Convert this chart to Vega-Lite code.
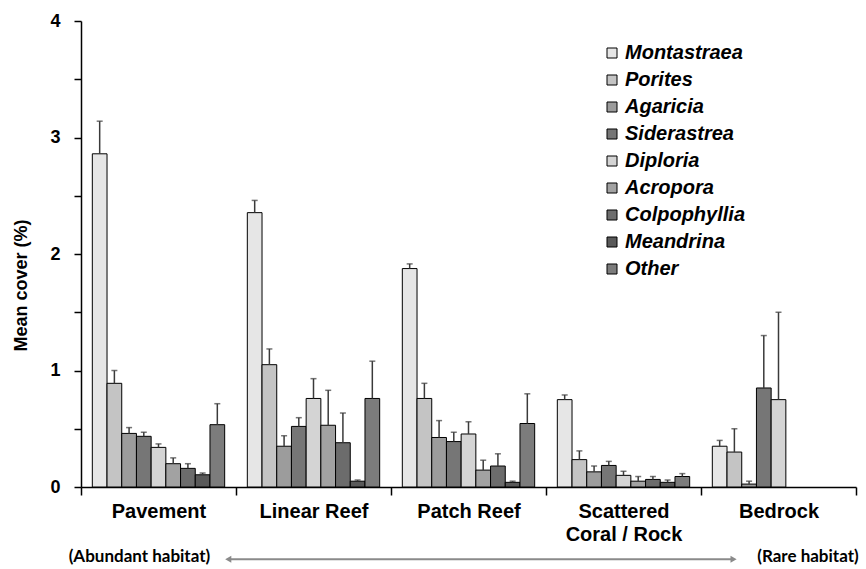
{
  "$schema": "https://vega.github.io/schema/vega-lite/v6.json",
  "width": 775,
  "height": 466,
  "autosize": {"type": "none"},
  "padding": {"left": 81, "top": 21, "right": 10, "bottom": 82},
  "background": "white",
  "config": {"view": {"stroke": null}, "font": "Liberation Sans"},
  "data": {
    "values": [
      {"habitat": "Pavement", "genus": "Montastraea", "mean": 2.86, "upper": 3.14},
      {"habitat": "Pavement", "genus": "Porites", "mean": 0.89, "upper": 1.0},
      {"habitat": "Pavement", "genus": "Agaricia", "mean": 0.46, "upper": 0.51},
      {"habitat": "Pavement", "genus": "Siderastrea", "mean": 0.435, "upper": 0.47},
      {"habitat": "Pavement", "genus": "Diploria", "mean": 0.34, "upper": 0.37},
      {"habitat": "Pavement", "genus": "Acropora", "mean": 0.2, "upper": 0.25},
      {"habitat": "Pavement", "genus": "Colpophyllia", "mean": 0.16, "upper": 0.2},
      {"habitat": "Pavement", "genus": "Meandrina", "mean": 0.105, "upper": 0.12},
      {"habitat": "Pavement", "genus": "Other", "mean": 0.535, "upper": 0.715},
      {"habitat": "Linear Reef", "genus": "Montastraea", "mean": 2.355, "upper": 2.46},
      {"habitat": "Linear Reef", "genus": "Porites", "mean": 1.05, "upper": 1.185},
      {"habitat": "Linear Reef", "genus": "Agaricia", "mean": 0.35, "upper": 0.44},
      {"habitat": "Linear Reef", "genus": "Siderastrea", "mean": 0.52, "upper": 0.595},
      {"habitat": "Linear Reef", "genus": "Diploria", "mean": 0.76, "upper": 0.93},
      {"habitat": "Linear Reef", "genus": "Acropora", "mean": 0.53, "upper": 0.83},
      {"habitat": "Linear Reef", "genus": "Colpophyllia", "mean": 0.38, "upper": 0.635},
      {"habitat": "Linear Reef", "genus": "Meandrina", "mean": 0.05, "upper": 0.06},
      {"habitat": "Linear Reef", "genus": "Other", "mean": 0.76, "upper": 1.08},
      {"habitat": "Patch Reef", "genus": "Montastraea", "mean": 1.875, "upper": 1.915},
      {"habitat": "Patch Reef", "genus": "Porites", "mean": 0.76, "upper": 0.89},
      {"habitat": "Patch Reef", "genus": "Agaricia", "mean": 0.425, "upper": 0.57},
      {"habitat": "Patch Reef", "genus": "Siderastrea", "mean": 0.39, "upper": 0.47},
      {"habitat": "Patch Reef", "genus": "Diploria", "mean": 0.455, "upper": 0.56},
      {"habitat": "Patch Reef", "genus": "Acropora", "mean": 0.145, "upper": 0.23},
      {"habitat": "Patch Reef", "genus": "Colpophyllia", "mean": 0.18, "upper": 0.285},
      {"habitat": "Patch Reef", "genus": "Meandrina", "mean": 0.04, "upper": 0.05},
      {"habitat": "Patch Reef", "genus": "Other", "mean": 0.545, "upper": 0.8},
      {"habitat": "Scattered Coral / Rock", "genus": "Montastraea", "mean": 0.75, "upper": 0.79},
      {"habitat": "Scattered Coral / Rock", "genus": "Porites", "mean": 0.235, "upper": 0.31},
      {"habitat": "Scattered Coral / Rock", "genus": "Agaricia", "mean": 0.13, "upper": 0.18},
      {"habitat": "Scattered Coral / Rock", "genus": "Siderastrea", "mean": 0.185, "upper": 0.22},
      {"habitat": "Scattered Coral / Rock", "genus": "Diploria", "mean": 0.1, "upper": 0.135},
      {"habitat": "Scattered Coral / Rock", "genus": "Acropora", "mean": 0.05, "upper": 0.09},
      {"habitat": "Scattered Coral / Rock", "genus": "Colpophyllia", "mean": 0.065, "upper": 0.09},
      {"habitat": "Scattered Coral / Rock", "genus": "Meandrina", "mean": 0.04, "upper": 0.06},
      {"habitat": "Scattered Coral / Rock", "genus": "Other", "mean": 0.09, "upper": 0.115},
      {"habitat": "Bedrock", "genus": "Montastraea", "mean": 0.35, "upper": 0.4},
      {"habitat": "Bedrock", "genus": "Porites", "mean": 0.3, "upper": 0.5},
      {"habitat": "Bedrock", "genus": "Agaricia", "mean": 0.025, "upper": 0.05},
      {"habitat": "Bedrock", "genus": "Siderastrea", "mean": 0.85, "upper": 1.3},
      {"habitat": "Bedrock", "genus": "Diploria", "mean": 0.75, "upper": 1.5}
    ]
  },
  "layer": [
    {
      "mark": {"type": "bar", "stroke": "black", "strokeWidth": 1},
      "encoding": {
        "x": {
          "field": "habitat", "type": "nominal",
          "scale": {"domain": ["Pavement", "Linear Reef", "Patch Reef", "Scattered Coral / Rock", "Bedrock"], "paddingInner": 0, "paddingOuter": 0},
          "axis": {
            "title": null, "labelAngle": 0, "tickBand": "extent", "tickSize": 8, "tickWidth": 1.5, "tickColor": "black",
            "domainColor": "black", "domainWidth": 1.5, "labelFont": "Liberation Sans", "labelFontSize": 20, "labelFontWeight": "bold",
            "labelColor": "black", "labelPadding": 6, "labelLineHeight": 23,
            "labelExpr": "datum.value == 'Scattered Coral / Rock' ? ['Scattered', 'Coral / Rock'] : datum.value"
          }
        },
        "xOffset": {
          "field": "genus", "type": "nominal",
          "scale": {"domain": ["Montastraea", "Porites", "Agaricia", "Siderastrea", "Diploria", "Acropora", "Colpophyllia", "Meandrina", "Other"], "paddingInner": 0, "paddingOuter": 0.77}
        },
        "y": {
          "field": "mean", "type": "quantitative",
          "scale": {"domain": [0, 4], "nice": false},
          "axis": {
            "title": "Mean cover (%)", "values": [0, 0.5, 1, 1.5, 2, 2.5, 3, 3.5, 4],
            "labelExpr": "datum.value % 1 === 0 ? '' + datum.value : ''",
            "grid": false, "domainColor": "black", "domainWidth": 1.5, "tickColor": "black", "tickWidth": 1.5, "tickSize": 7,
            "labelFont": "Liberation Sans", "labelFontSize": 18, "labelFontWeight": "bold", "labelColor": "black", "labelPadding": 14,
            "titleFont": "Liberation Sans", "titleFontSize": 18, "titleFontWeight": "bold", "titleColor": "black", "titlePadding": 19,
            "titleY": 264
          }
        },
        "color": {
          "field": "genus", "type": "nominal",
          "scale": {
            "domain": ["Montastraea", "Porites", "Agaricia", "Siderastrea", "Diploria", "Acropora", "Colpophyllia", "Meandrina", "Other"],
            "range": ["#e6e6e6", "#c4c4c4", "#9c9c9c", "#767676", "#d4d4d4", "#a2a2a2", "#6c6c6c", "#595959", "#7c7c7c"]
          },
          "legend": {
            "title": null, "orient": "none", "legendX": 521, "legendY": 22,
            "symbolType": "square", "symbolSize": 100, "symbolStrokeColor": "black", "symbolStrokeWidth": 1, "symbolOpacity": 1,
            "labelFont": "Liberation Sans", "labelFontSize": 20, "labelFontWeight": "bold", "labelFontStyle": "italic", "labelColor": "black",
            "labelOffset": 3, "rowPadding": 7
          }
        }
      }
    },
    {
      "mark": {"type": "rule", "color": "#3a3a3a", "strokeWidth": 1.5},
      "encoding": {
        "x": {"field": "habitat", "type": "nominal"},
        "xOffset": {"field": "genus", "type": "nominal"},
        "y": {"field": "mean", "type": "quantitative"},
        "y2": {"field": "upper"}
      }
    },
    {
      "mark": {"type": "tick", "orient": "horizontal", "color": "#3a3a3a", "size": 6, "thickness": 1.5},
      "encoding": {
        "x": {"field": "habitat", "type": "nominal"},
        "xOffset": {"field": "genus", "type": "nominal"},
        "y": {"field": "upper", "type": "quantitative"}
      }
    },
    {
      "data": {"values": [{}]},
      "mark": {"type": "rule", "color": "#8a8a8a", "strokeWidth": 2},
      "encoding": {
        "x": {"datum": "Pavement", "type": "nominal", "bandPosition": 0.96},
        "x2": {"datum": "Bedrock", "bandPosition": 0.2},
        "y": {"datum": -0.62, "type": "quantitative"}
      }
    },
    {
      "data": {"values": [{}]},
      "mark": {"type": "point", "shape": "triangle-left", "filled": true, "color": "#8a8a8a", "size": 50, "opacity": 1},
      "encoding": {
        "x": {"datum": "Pavement", "type": "nominal", "bandPosition": 0.95},
        "y": {"datum": -0.62, "type": "quantitative"}
      }
    },
    {
      "data": {"values": [{}]},
      "mark": {"type": "point", "shape": "triangle-right", "filled": true, "color": "#8a8a8a", "size": 50, "opacity": 1},
      "encoding": {
        "x": {"datum": "Bedrock", "type": "nominal", "bandPosition": 0.21},
        "y": {"datum": -0.62, "type": "quantitative"}
      }
    },
    {
      "data": {"values": [{"t": "(Abundant habitat)"}]},
      "mark": {"type": "text", "font": "Lato", "fontWeight": "bold", "fontSize": 17, "color": "black", "align": "center", "baseline": "middle"},
      "encoding": {
        "x": {"datum": "Pavement", "type": "nominal", "bandPosition": 0.377},
        "y": {"datum": -0.6, "type": "quantitative"},
        "text": {"field": "t"}
      }
    },
    {
      "data": {"values": [{"t": "(Rare habitat)"}]},
      "mark": {"type": "text", "font": "Lato", "fontWeight": "bold", "fontSize": 17, "color": "black", "align": "center", "baseline": "middle"},
      "encoding": {
        "x": {"datum": "Bedrock", "type": "nominal", "bandPosition": 0.69},
        "y": {"datum": -0.6, "type": "quantitative"},
        "text": {"field": "t"}
      }
    }
  ]
}
